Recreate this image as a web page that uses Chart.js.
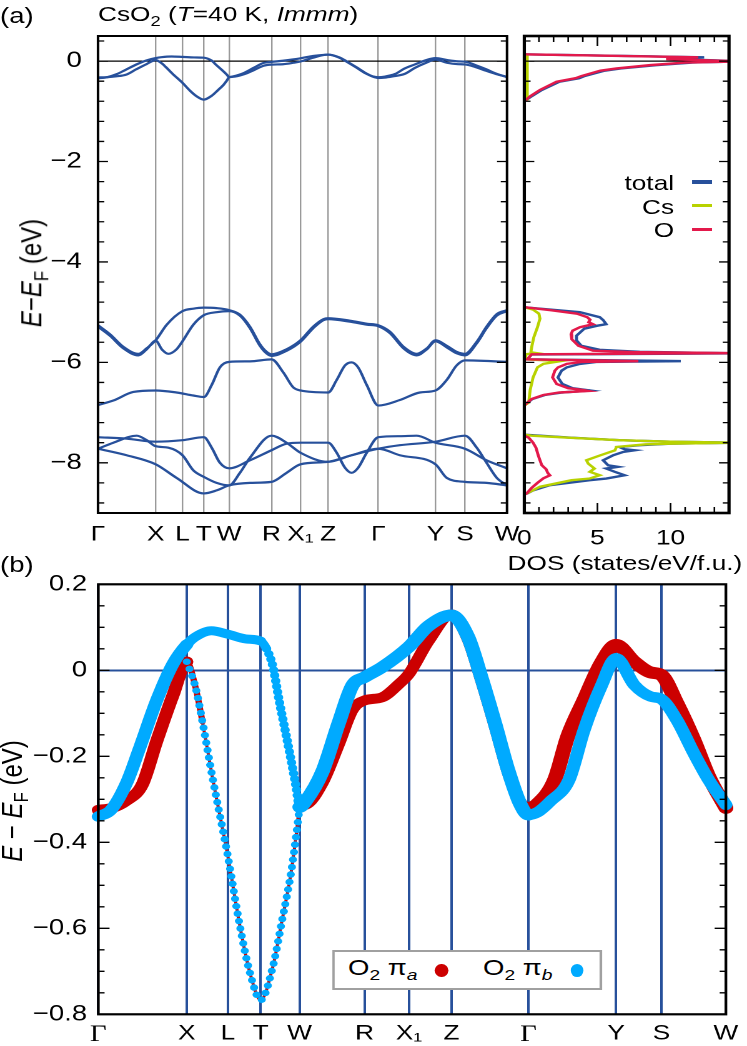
<!DOCTYPE html>
<html><head><meta charset="utf-8">
<script src="https://cdn.jsdelivr.net/npm/chart.js@4.4.1/dist/chart.umd.min.js"></script>
<style>
html,body{margin:0;padding:0;background:#fff;width:747px;height:1046px;overflow:hidden;}
#wrap{position:absolute;left:0;top:0;width:598px;height:1046px;transform:scaleX(1.24916);transform-origin:0 0;}
canvas{position:absolute;left:0;top:0;}
.t{position:absolute;font-family:"Liberation Sans",Arial,sans-serif;color:#000;white-space:nowrap;line-height:1;font-size:21px;}
.sb{font-size:0.7em;vertical-align:-0.32em;}
.lg{position:absolute;height:3.5px;width:16px;}
</style></head>
<body><div id="wrap">
<canvas id="c1" width="598" height="1046"></canvas>
<canvas id="c2" width="598" height="1046"></canvas>
<canvas id="c3" width="598" height="1046"></canvas>

<div class="t" style="left:0;top:16px;transform:translateY(-50%);font-size:22px">(a)</div>
<div class="t" style="left:78.5px;top:16px;transform:translateY(-50%)">CsO<span class="sb">2</span> (<i>T</i>=40 K, <i>Immm</i>)</div>
<div class="t" style="left:0;top:565px;transform:translateY(-50%);font-size:22px">(b)</div>
<div class="t" style="left:28px;top:273px;transform:translate(-50%,-50%) rotate(-90deg);font-size:24px"><i>E</i>−<i>E</i><span class="sb">F</span> (eV)</div>
<div class="t" style="left:12px;top:801px;transform:translate(-50%,-50%) rotate(-90deg);font-size:24px"><i>E</i> − <i>E</i><span class="sb">F</span> (eV)</div>
<div class="t" style="left:500.3px;top:562px;transform:translate(-50%,-50%)">DOS (states/eV/f.u.)</div>

<div class="t" style="right:58.4px;top:181.5px;transform:translateY(-50%)">total</div>
<div class="t" style="right:58.4px;top:206px;transform:translateY(-50%)">Cs</div>
<div class="t" style="right:58.4px;top:229px;transform:translateY(-50%)">O</div>
<div class="lg" style="left:554px;top:180px;background:#27509b"></div>
<div class="lg" style="left:554px;top:203.5px;background:#b8d200"></div>
<div class="lg" style="left:554px;top:227.5px;background:#e3194b"></div>

<div style="position:absolute;left:265.8px;top:950px;width:216.1px;height:40px;box-sizing:border-box;border:2px solid #a0a0a0;background:#fff;"></div>
<div class="t" style="left:278.6px;top:970px;transform:translateY(-50%);font-size:22px">O<span class="sb">2</span> π<span class="sb"><i>a</i></span></div>
<div style="position:absolute;left:348.4px;top:963.5px;width:10.4px;height:13px;border-radius:50%;background:#cc0000"></div>
<div class="t" style="left:386.7px;top:970px;transform:translateY(-50%);font-size:22px">O<span class="sb">2</span> π<span class="sb"><i>b</i></span></div>
<div style="position:absolute;left:456.5px;top:963.5px;width:10.4px;height:13px;border-radius:50%;background:#00aaff"></div>
</div>

<script>
// ---------------- data ----------------
const kTicks  = [0, 0.141, 0.2065, 0.2587, 0.3207, 0.4243, 0.4951, 0.5627, 0.6853, 0.8251, 0.8972, 1];
const kLabels = ['Γ','X','L','T','W','R','X₁','Z','Γ','Y','S','W'];
const yLabelsA = [0, -2, -4, -6, -8];
const yLabelsB = [0.2, 0, -0.2, -0.4, -0.6, -0.8];
const dosTickLabels = [0, 5, 10];

// bands near E_F  [k, E]
const bandP = [[0,-0.34],[0.02,-0.325],[0.045,-0.262],[0.066,-0.18],[0.093,-0.07],[0.119,0.015],[0.141,0.06],[0.155,0.078],[0.18,0.092],[0.2065,0.084],[0.235,0.073],[0.2587,0.068],[0.268,0.05],[0.278,0.01],[0.288,-0.069],[0.304,-0.185],[0.315,-0.27],[0.3207,-0.318],[0.33,-0.305],[0.357,-0.236],[0.383,-0.123],[0.405,-0.035],[0.4243,-0.016],[0.452,0.007],[0.4951,0.055],[0.526,0.103],[0.5627,0.128],[0.589,0.078],[0.61,-0.015],[0.632,-0.123],[0.653,-0.232],[0.672,-0.31],[0.6853,-0.336],[0.70,-0.33],[0.72,-0.305],[0.75,-0.255],[0.774,-0.139],[0.801,-0.038],[0.8251,0.028],[0.854,-0.034],[0.88,-0.061],[0.8972,-0.067],[0.922,-0.116],[0.949,-0.193],[0.9726,-0.255],[1.0,-0.313]];
const bandQ = [[0,-0.325],[0.02,-0.321],[0.045,-0.303],[0.07,-0.266],[0.093,-0.165],[0.119,-0.058],[0.141,0.02],[0.155,-0.04],[0.166,-0.12],[0.182,-0.25],[0.2065,-0.433],[0.225,-0.59],[0.241,-0.70],[0.2587,-0.767],[0.278,-0.69],[0.293,-0.58],[0.307,-0.472],[0.315,-0.387],[0.3207,-0.32],[0.33,-0.313],[0.357,-0.262],[0.383,-0.172],[0.405,-0.092],[0.4243,-0.07],[0.452,-0.063],[0.479,-0.032],[0.4951,-0.008],[0.526,0.068],[0.5627,0.13],[0.589,0.072],[0.61,-0.022],[0.632,-0.13],[0.653,-0.238],[0.672,-0.305],[0.6853,-0.32],[0.70,-0.31],[0.727,-0.255],[0.748,-0.154],[0.774,-0.069],[0.801,0.016],[0.8251,0.059],[0.854,0.02],[0.88,-0.005],[0.8972,-0.011],[0.922,-0.077],[0.949,-0.162],[0.9726,-0.247],[1.0,-0.32]];

// deeper bands
const bandU1 = [[0,-5.26],[0.0293,-5.44],[0.0619,-5.69],[0.0986,-5.83],[0.119,-5.72],[0.141,-5.56],[0.168,-5.25],[0.2065,-4.98],[0.233,-4.93],[0.2587,-4.91],[0.29,-4.92],[0.3207,-4.96],[0.347,-5.05],[0.3716,-5.29],[0.396,-5.64],[0.412,-5.79],[0.4243,-5.84],[0.461,-5.74],[0.4951,-5.56],[0.526,-5.29],[0.551,-5.14],[0.5627,-5.12],[0.616,-5.17],[0.657,-5.23],[0.6853,-5.26],[0.714,-5.39],[0.747,-5.69],[0.779,-5.83],[0.804,-5.72],[0.8251,-5.56],[0.8526,-5.67],[0.877,-5.79],[0.8972,-5.83],[0.926,-5.59],[0.95,-5.29],[0.975,-5.04],[1.0,-4.96]];
const bandU2 = [[0,-5.29],[0.0293,-5.47],[0.0619,-5.72],[0.0986,-5.86],[0.119,-5.74],[0.141,-5.57],[0.157,-5.75],[0.172,-5.83],[0.192,-5.74],[0.2065,-5.58],[0.233,-5.25],[0.2587,-5.06],[0.29,-5.0],[0.3207,-4.98],[0.347,-5.07],[0.3716,-5.32],[0.396,-5.67],[0.412,-5.82],[0.4243,-5.87],[0.461,-5.77],[0.4951,-5.59],[0.526,-5.32],[0.551,-5.16],[0.5627,-5.14],[0.616,-5.19],[0.657,-5.25],[0.6853,-5.28],[0.714,-5.42],[0.747,-5.72],[0.779,-5.86],[0.804,-5.74],[0.8251,-5.58],[0.8526,-5.7],[0.877,-5.82],[0.8972,-5.86],[0.926,-5.62],[0.95,-5.32],[0.975,-5.07],[1.0,-4.98]];
const bandM = [[0,-6.85],[0.0375,-6.76],[0.0863,-6.59],[0.141,-6.56],[0.192,-6.6],[0.233,-6.66],[0.2587,-6.69],[0.278,-6.45],[0.298,-6.1],[0.3207,-5.99],[0.3716,-5.98],[0.4243,-5.94],[0.453,-6.2],[0.4776,-6.5],[0.4951,-6.56],[0.5627,-6.6],[0.5836,-6.35],[0.604,-6.06],[0.62,-6.0],[0.636,-6.1],[0.657,-6.45],[0.6853,-6.86],[0.738,-6.75],[0.787,-6.6],[0.8251,-6.56],[0.8526,-6.35],[0.877,-6.06],[0.8972,-5.96],[1.0,-5.99]];
const bandC1 = [[0,-7.49],[0.07,-7.52],[0.141,-7.58],[0.2065,-7.55],[0.2587,-7.49],[0.278,-7.7],[0.298,-8.0],[0.3207,-8.11],[0.3716,-7.95],[0.4243,-7.75],[0.461,-7.62],[0.4951,-7.6],[0.5627,-7.6],[0.5836,-7.8],[0.604,-8.1],[0.62,-8.2],[0.636,-8.1],[0.657,-7.8],[0.6853,-7.49],[0.738,-7.47],[0.779,-7.46],[0.8251,-7.6],[0.8972,-7.72],[0.95,-7.95],[1.0,-8.11]];
const bandC2 = [[0,-7.72],[0.0375,-7.6],[0.0945,-7.46],[0.119,-7.55],[0.141,-7.67],[0.172,-7.7],[0.2065,-7.85],[0.233,-8.15],[0.2587,-8.28],[0.29,-8.4],[0.3207,-8.45],[0.347,-8.2],[0.3716,-7.9],[0.4243,-7.46],[0.461,-7.6],[0.4951,-7.8],[0.5627,-7.98],[0.62,-7.85],[0.6853,-7.72],[0.738,-7.65],[0.8251,-7.58],[0.8972,-7.46],[0.926,-7.7],[0.95,-8.0],[0.975,-8.3],[1.0,-8.45]];
const bandC3 = [[0,-7.72],[0.07,-7.85],[0.141,-8.03],[0.192,-8.3],[0.2587,-8.61],[0.29,-8.55],[0.3207,-8.45],[0.3716,-8.4],[0.4243,-8.38],[0.461,-8.2],[0.4951,-8.03],[0.5627,-7.98],[0.62,-7.85],[0.6853,-7.72],[0.738,-7.85],[0.8251,-8.03],[0.8526,-8.3],[0.8972,-8.38],[0.95,-8.4],[1.0,-8.45]];

// DOS  [E, dos]
const dosTotal = [[0.135,0],[0.132,0.45],[0.115,4.3],[0.095,8.5],[0.075,12.3],[0.06,10.8],[0.04,10.2],[0.015,13],[-0.005,15],[-0.03,11.5],[-0.08,9],[-0.145,6.6],[-0.19,5.5],[-0.3,4.1],[-0.34,3.75],[-0.41,2.4],[-0.575,1.2],[-0.7,0.5],[-0.76,0.2],[-0.77,0],
 [-4.9,0],[-4.91,0.3],[-5.0,3.8],[-5.1,5.16],[-5.16,5.4],[-5.24,5.6],[-5.27,5.0],[-5.33,4.1],[-5.47,3.57],[-5.56,3.57],[-5.67,3.9],[-5.75,5.16],[-5.79,7.9],[-5.82,14.5],[-5.845,0.5],[-5.94,0.2],[-5.975,10.7],[-5.99,5.0],[-6.03,3.8],[-6.1,2.9],[-6.165,2.55],[-6.3,2.3],[-6.43,2.6],[-6.515,3.3],[-6.56,4.5],[-6.6,2.6],[-6.65,1.4],[-6.73,0.55],[-6.83,0.1],[-6.86,0],
 [-7.44,0],[-7.5,3.2],[-7.55,6.5],[-7.58,10],[-7.6,14.5],[-7.62,10],[-7.65,7.9],[-7.685,6.5],[-7.73,6.86],[-7.752,7.55],[-7.785,6.75],[-7.851,6.07],[-7.95,5.39],[-8.05,5.73],[-8.08,6.41],[-8.115,5.6],[-8.18,6.19],[-8.248,6.86],[-8.313,5.6],[-8.347,4.48],[-8.445,1.75],[-8.55,0.6],[-8.61,0.2],[-8.63,0]];
const dosCs = [[0.135,0],[0.13,0.2],[-0.76,0.2],[-0.77,0],
 [-4.9,0],[-4.95,0.6],[-5.03,1.0],[-5.13,1.07],[-5.3,0.9],[-5.5,0.65],[-5.7,0.5],[-5.8,0.45],[-5.815,0.8],[-5.84,0.1],[-5.94,0.1],[-5.975,2.5],[-6.03,1.3],[-6.1,0.9],[-6.3,0.6],[-6.55,0.4],[-6.8,0.3],[-6.86,0],
 [-7.44,0],[-7.46,0.5],[-7.5,3],[-7.55,6.5],[-7.58,10],[-7.6,14.5],[-7.62,10],[-7.633,8.3],[-7.685,6.3],[-7.752,6.2],[-7.851,5.2],[-7.95,4.25],[-8.016,4.37],[-8.115,4.8],[-8.18,4.48],[-8.248,5.16],[-8.313,4.48],[-8.347,3.23],[-8.478,1.07],[-8.611,0.16],[-8.63,0]];
const dosO = [[0.135,0],[0.132,0.4],[0.115,4],[0.095,8],[0.075,11.9],[0.06,10.3],[0.04,9.7],[0.015,12.5],[-0.005,15],[-0.03,11],[-0.08,8.6],[-0.145,6.3],[-0.19,5.2],[-0.3,3.9],[-0.33,3.6],[-0.34,3.5],[-0.41,2.2],[-0.575,1.07],[-0.7,0.4],[-0.76,0.16],[-0.77,0],
 [-4.9,0],[-4.91,0.3],[-4.96,1.8],[-5.03,3.6],[-5.1,4.3],[-5.15,4.5],[-5.2,4.4],[-5.24,4.7],[-5.3,3.8],[-5.37,3.3],[-5.44,3.2],[-5.54,3.25],[-5.67,3.7],[-5.767,4.7],[-5.795,7.4],[-5.815,14.5],[-5.84,0.5],[-5.94,0.2],[-5.975,7.8],[-5.99,4.0],[-6.03,2.9],[-6.1,2.3],[-6.165,2.09],[-6.3,1.93],[-6.43,2.21],[-6.515,3.0],[-6.55,4.0],[-6.57,4.37],[-6.6,2.4],[-6.65,1.3],[-6.73,0.5],[-6.83,0.1],[-6.86,0],
 [-7.46,0],[-7.5,0.3],[-7.6,0.6],[-7.7,0.8],[-7.85,0.95],[-7.95,1.07],[-8.05,1.2],[-8.13,1.5],[-8.2,1.6],[-8.25,1.75],[-8.31,1.3],[-8.4,0.9],[-8.5,0.5],[-8.61,0.16],[-8.63,0]];

// ---------------- rendering ----------------
const S = 747 / 598;
const FONT = '"Liberation Sans", "DejaVu Sans", Arial, sans-serif';
const BAND = '#27509b';
const pts = a => a.map(p => ({x: p[0], y: p[1]}));
const dpts = a => a.map(p => ({x: p[1], y: p[0]}));
const fmtA = v => v === 0 ? '0' : '−' + Math.abs(v);
const fmtB = v => Math.abs(v) < 1e-9 ? '0' : (v < 0 ? '−' : '') + Math.abs(v).toFixed(1);

function frameTicks(cfg) {
  return {
    id: 'frameTicks',
    afterDatasetsDraw(chart) {
      const ctx = chart.ctx, a = chart.chartArea;
      ctx.save();
      ctx.strokeStyle = '#000';
      ctx.lineWidth = 1.3;
      ctx.beginPath();
      (cfg.yt || []).forEach(t => {
        const py = chart.scales.y.getPixelForValue(t[0]);
        const L = t[1] ? cfg.major : cfg.minor;
        ctx.moveTo(a.left, py); ctx.lineTo(a.left + L, py);
        ctx.moveTo(a.right, py); ctx.lineTo(a.right - L, py);
      });
      (cfg.xt || []).forEach(t => {
        const px = chart.scales.x.getPixelForValue(t[0]);
        const L = t[1] ? cfg.majorX : cfg.minorX;
        ctx.moveTo(px, a.bottom); ctx.lineTo(px, a.bottom - L);
        ctx.moveTo(px, a.top); ctx.lineTo(px, a.top + L);
      });
      ctx.stroke();
      ctx.lineWidth = cfg.frame;
      ctx.strokeRect(a.left, a.top, a.right - a.left, a.bottom - a.top);
      ctx.restore();
    }
  };
}

const ytA = []; for (let i = -1; i <= 22; i++) ytA.push([-0.4 * i, i % 5 === 0]);
const ytB = []; for (let i = 0; i <= 20; i++) ytB.push([0.2 - 0.05 * i, i % 4 === 0]);
const xtD = []; for (let i = 0; i <= 14; i++) xtD.push([i, i % 5 === 0]);

const base = {
  responsive: false, animation: false, devicePixelRatio: 2,
  plugins: {legend: {display: false}, tooltip: {enabled: false}},
  elements: {point: {radius: 0}}
};

// ---- chart 1 : band structure (a)
new Chart(document.getElementById('c1'), {
  type: 'line',
  data: {datasets: [bandC3, bandC2, bandC1, bandM, bandU2, bandU1, bandQ, bandP].map(b => ({
    data: pts(b), borderColor: BAND, borderWidth: 2.2, pointRadius: 0,
    cubicInterpolationMode: 'monotone', fill: false, borderCapStyle: 'round', borderJoinStyle: 'round'}))},
  options: Object.assign({}, base, {
    layout: {padding: {left: 0, right: 598 - 507 / S, top: 36, bottom: 1046 - 513 - 40}},
    scales: {
      x: {type: 'linear', min: 0, max: 1,
        afterBuildTicks: s => { s.ticks = kTicks.map(v => ({value: v})); },
        afterFit: s => { s.height = 40; },
        ticks: {autoSkip: false, maxRotation: 0, padding: 9, color: '#000', font: {family: FONT, size: 21},
                callback: (v, i) => kLabels[i]},
        grid: {color: '#9a9a9a', lineWidth: 1.2, drawTicks: false},
        border: {display: false}},
      y: {type: 'linear', min: -9, max: 0.5,
        afterBuildTicks: s => { s.ticks = yLabelsA.map(v => ({value: v})); },
        afterFit: s => { s.width = 98 / S; },
        ticks: {padding: 13, color: '#000', font: {family: FONT, size: 22}, callback: v => fmtA(v)},
        grid: {color: c => (c.tick && c.tick.value === 0) ? '#000' : 'rgba(0,0,0,0)', lineWidth: 1.2, drawTicks: false},
        border: {display: false}}
    }
  }),
  plugins: [frameTicks({yt: ytA, major: 8, minor: 5, frame: 2})]
});

// ---- chart 2 : DOS  (first dataset is drawn on top)
new Chart(document.getElementById('c2'), {
  type: 'line',
  data: {datasets: [
    {data: dpts(dosO), borderColor: '#e3194b', borderWidth: 2.4, pointRadius: 0, tension: 0, fill: false},
    {data: dpts(dosCs), borderColor: '#b8d200', borderWidth: 2.4, pointRadius: 0, tension: 0, fill: false},
    {data: dpts(dosTotal), borderColor: '#27509b', borderWidth: 2.4, pointRadius: 0, tension: 0, fill: false}
  ]},
  options: Object.assign({}, base, {
    layout: {padding: {left: 524.3 / S, right: 598 - 729 / S, top: 36, bottom: 1046 - 513 - 40}},
    scales: {
      x: {type: 'linear', min: 0, max: 14,
        afterBuildTicks: s => { s.ticks = dosTickLabels.map(v => ({value: v})); },
        afterFit: s => { s.height = 40; },
        ticks: {autoSkip: false, maxRotation: 0, padding: 13, color: '#000', font: {family: FONT, size: 21}},
        grid: {display: false, drawTicks: false},
        border: {display: false}},
      y: {type: 'linear', min: -9, max: 0.5,
        afterBuildTicks: s => { s.ticks = [{value: 0}]; },
        afterFit: s => { s.width = 0; },
        ticks: {display: false},
        grid: {color: '#000', lineWidth: 1.2, drawTicks: false},
        border: {display: false}}
    }
  }),
  plugins: [frameTicks({yt: ytA, xt: xtD, major: 8, minor: 5, majorX: 10, minorX: 6, frame: 2.6})]
});

// ---- chart 3 : fat bands (b)  (first dataset is drawn on top)
const RED = '#cc0000', BLUE = '#00aaff';
const mid = c => (c.p0.parsed.x + c.p1.parsed.x) / 2;
const wQ = c => { const m = mid(c); if (m < 0.141) return 10.5; if (m < 0.17) return 5; if (m < 0.3207) return 2.5; if (m < 0.6853) return 10; return 12; };
const wP = c => { const m = mid(c); if (m < 0.141) return 10.5; if (m < 0.2587) return 9; if (m < 0.3207) return 7.5; if (m < 0.6853) return 11.5; return 10.5; };
const dP = c => { const m = mid(c); return (m > 0.27 && m < 0.3207) ? [0.01, 5.5] : []; };

new Chart(document.getElementById('c3'), {
  type: 'line',
  data: {datasets: [
    {data: pts(bandQ.filter(p => p[0] >= 0.141 && p[0] <= 0.3207)), borderColor: BLUE, borderWidth: 6.5, pointRadius: 0,
     cubicInterpolationMode: 'monotone', borderCapStyle: 'round', borderDash: [0.01, 7.5], fill: false, clip: 6},
    {data: pts(bandP), borderColor: BLUE, borderWidth: 11, pointRadius: 0, cubicInterpolationMode: 'monotone',
     borderCapStyle: 'round', borderJoinStyle: 'round', fill: false, clip: 6, segment: {borderWidth: wP, borderDash: dP}},
    {data: pts(bandQ), borderColor: RED, borderWidth: 10, pointRadius: 0, cubicInterpolationMode: 'monotone',
     borderCapStyle: 'round', borderJoinStyle: 'round', fill: false, clip: 6, segment: {borderWidth: wQ}}
  ]},
  options: Object.assign({}, base, {
    layout: {padding: {left: 0, right: 598 - 729 / S, top: 584.3, bottom: 0}},
    scales: {
      x: {type: 'linear', min: 0, max: 1,
        afterBuildTicks: s => { s.ticks = kTicks.map(v => ({value: v})); },
        afterFit: s => { s.height = 1046 - 1014.3; },
        ticks: {autoSkip: false, maxRotation: 0, padding: 7, color: '#000',
                font: c => (c.tick && c.index !== undefined && kLabels[c.index] === 'Γ') ? {family: '"Liberation Serif", serif', size: 23} : {family: FONT, size: 21},
                callback: (v, i) => kLabels[i]},
        grid: {color: BAND, lineWidth: 2, drawTicks: false},
        border: {display: false}},
      y: {type: 'linear', min: -0.8, max: 0.2,
        afterBuildTicks: s => { s.ticks = yLabelsB.map(v => ({value: v})); },
        afterFit: s => { s.width = 98.3 / S; },
        ticks: {padding: 9, color: '#000', font: {family: FONT, size: 22}, callback: v => fmtB(v)},
        grid: {color: c => (c.tick && Math.abs(c.tick.value) < 1e-9) ? BAND : 'rgba(0,0,0,0)', lineWidth: 2, drawTicks: false},
        border: {display: false}}
    }
  }),
  plugins: [frameTicks({yt: ytB, major: 9, minor: 5, frame: 2.2})]
});
</script>
</body></html>
